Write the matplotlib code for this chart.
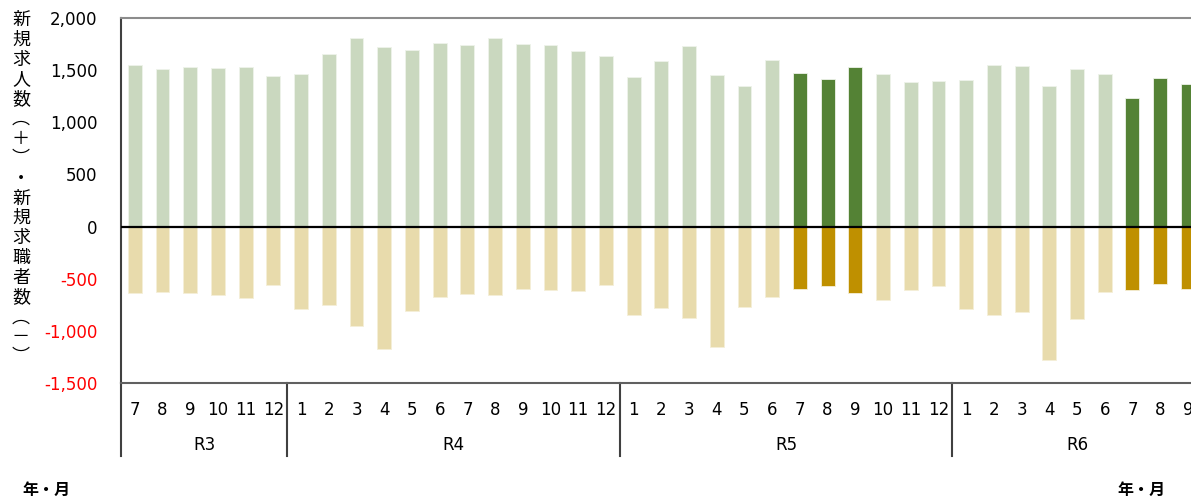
import numpy as np
import matplotlib.pyplot as plt
from matplotlib.transforms import blended_transform_factory

plt.rcParams['font.family'] = ['DejaVu Sans', 'Noto Sans CJK JP']

# months and fiscal-year groups (Reiwa)
years = ['R3', 'R4', 'R5', 'R6']
months_per_year = [[7, 8, 9, 10, 11, 12],
                   list(range(1, 13)),
                   list(range(1, 13)),
                   [1, 2, 3, 4, 5, 6, 7, 8, 9]]

# new job openings (+)
job_offers = [1550, 1512, 1528, 1518, 1534, 1445,
              1461, 1653, 1809, 1725, 1694, 1761, 1742, 1809, 1751, 1742, 1684, 1636,
              1435, 1586, 1732, 1455, 1346, 1595, 1470, 1413, 1528, 1464, 1388, 1397,
              1404, 1550, 1541, 1352, 1509, 1467, 1237, 1426, 1371]
# new job seekers (-)
job_seekers = [641, 631, 641, 657, 689, 558,
               791, 749, 954, 1177, 807, 676, 651, 657, 600, 609, 619, 562,
               849, 785, 874, 1155, 775, 676, 600, 568, 635, 702, 609, 568,
               791, 849, 823, 1276, 887, 625, 606, 549, 600]

highlight_years = ['R5', 'R6']
highlight_months = [7, 8, 9]

yticks = [-1500, -1000, -500, 0, 500, 1000, 1500, 2000]

months = [m for ms in months_per_year for m in ms]
year_of = [y for y, ms in zip(years, months_per_year) for _ in ms]
n = len(months)
x = np.arange(n)
hl = [(y in highlight_years and m in highlight_months) for y, m in zip(year_of, months)]

c_pos = ['#548235' if h else '#CAD8BF' for h in hl]
c_neg = ['#BF9000' if h else '#E8DBAC' for h in hl]

W, H = 1191, 500
fig = plt.figure(figsize=(W / 100, H / 100), dpi=100)
step = 27.71
ax = fig.add_axes([121 / W, (H - 383) / H, n * step / W, 365 / H])

ax.bar(x, job_offers, width=0.5, color=c_pos, edgecolor='#EEF3EA', linewidth=0.6)
ax.bar(x, [-v for v in job_seekers], width=0.5, color=c_neg, edgecolor='#F5EFD8', linewidth=0.6)
ax.axhline(0, color='black', lw=1.6, zorder=3)

ax.set_xlim(-0.5, n - 0.5)
ax.set_ylim(-1500, 2000)
ax.set_yticks(yticks)
ax.set_yticklabels(['{:,}'.format(v) for v in yticks], fontsize=12)
for lab, v in zip(ax.get_yticklabels(), yticks):
    lab.set_color('red' if v < 0 else 'black')
ax.tick_params(axis='y', length=0, pad=17)
ax.set_xticks([])

ax.spines['top'].set_color('#8C8C8C')
ax.spines['top'].set_linewidth(1.5)
ax.spines['left'].set_color('#404040')
ax.spines['left'].set_linewidth(1.5)
ax.spines['bottom'].set_color('#606060')
ax.spines['bottom'].set_linewidth(1.5)
ax.spines['right'].set_visible(False)

# month labels, year labels and group separators under the axis
tr = blended_transform_factory(ax.transData, ax.transAxes)
for xi, m in zip(x, months):
    ax.text(xi, -0.074, str(m), transform=tr, ha='center', va='center', fontsize=12)

start = 0
for y, ms in zip(years, months_per_year):
    ax.plot([start - 0.5, start - 0.5], [0, -0.2], transform=tr, color='#404040',
            lw=1.5, clip_on=False)
    ax.text(start + (len(ms) - 1) / 2, -0.17, y, transform=tr, ha='center', va='center',
            fontsize=12)
    start += len(ms)

ylabel = '新規求人数︵＋︶・新規求職者数︵－︶'
fig.text(21 / W, 1 - 11 / H, '\n'.join(ylabel), ha='center', va='top', fontsize=13,
         family=['Noto Sans CJK JP', 'DejaVu Sans'], linespacing=1.13)

fig.text(46 / W, 1 - 490 / H, '年・月', ha='center', va='center', fontsize=11.5,
         family=['Noto Sans CJK JP', 'DejaVu Sans'], fontweight='bold')
fig.text(1141 / W, 1 - 490 / H, '年・月', ha='center', va='center', fontsize=11.5,
         family=['Noto Sans CJK JP', 'DejaVu Sans'], fontweight='bold')

fig.savefig('out.png', dpi=100)
